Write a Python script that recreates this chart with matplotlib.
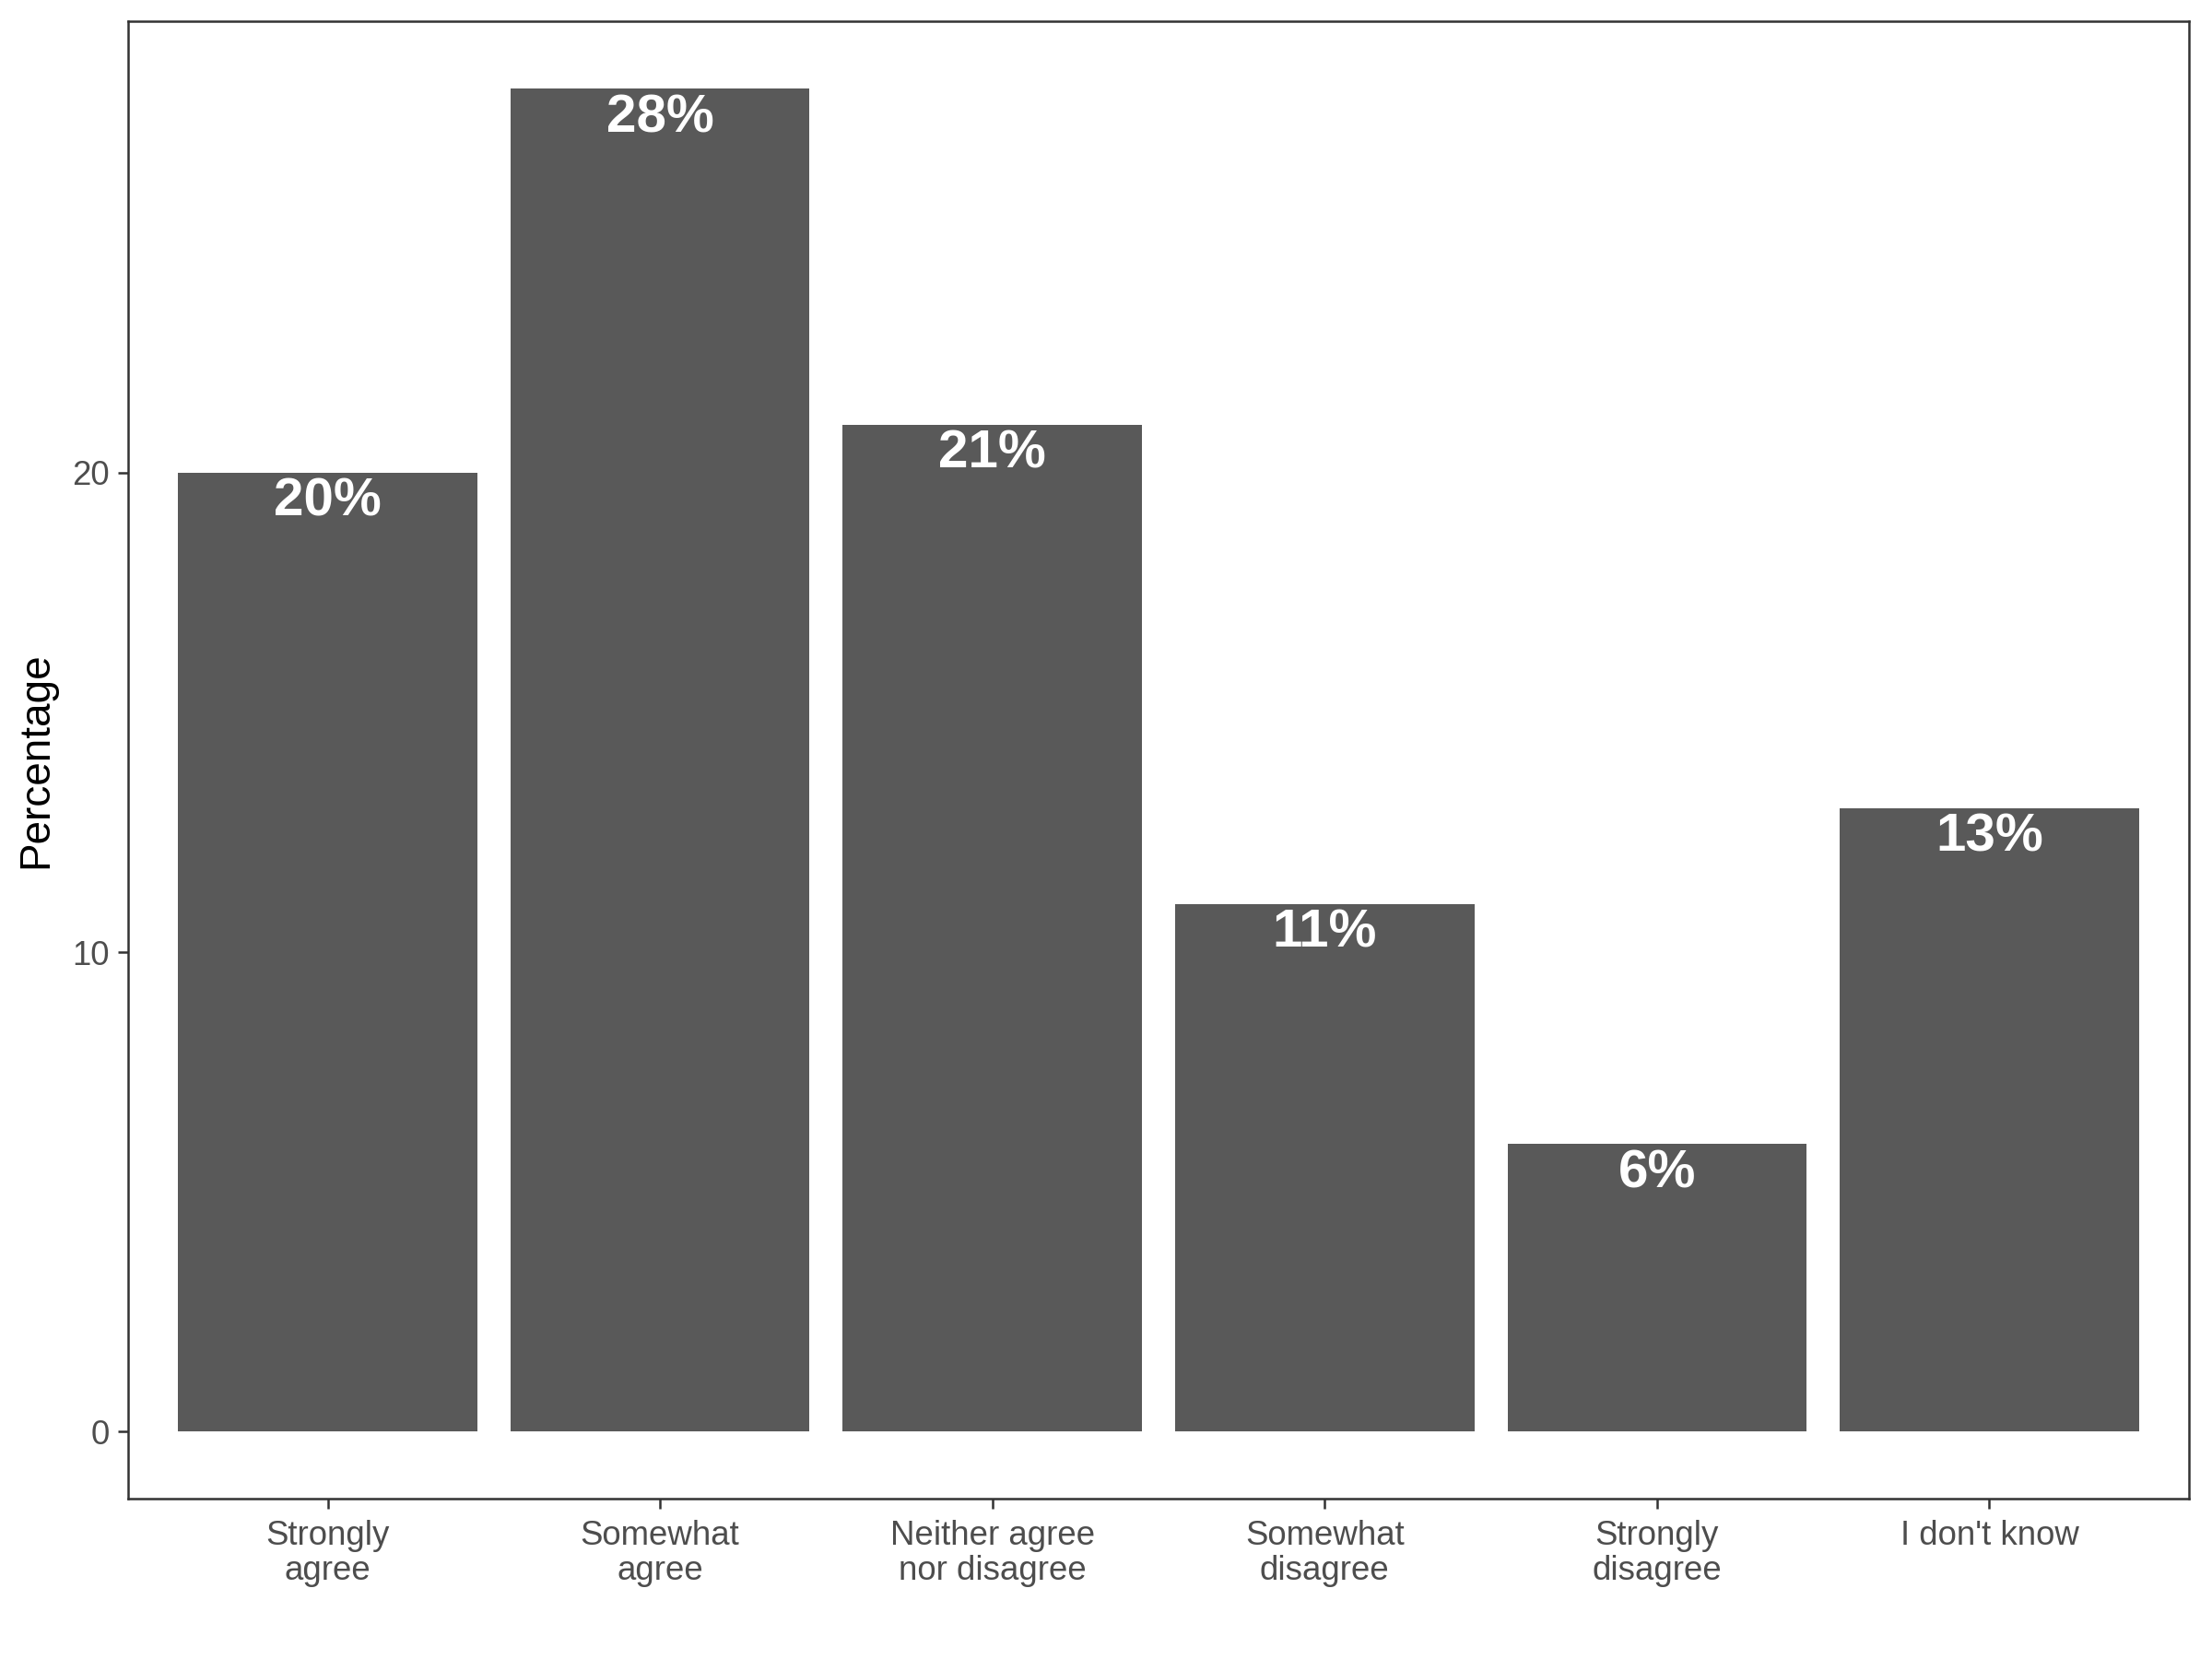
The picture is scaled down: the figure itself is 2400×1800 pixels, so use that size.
import matplotlib.pyplot as plt

plt.rcParams['font.family'] = ['Liberation Sans', 'DejaVu Sans']

categories = ['Strongly\nagree', 'Somewhat\nagree', 'Neither agree\nnor disagree',
              'Somewhat\ndisagree', 'Strongly\ndisagree', "I don't know"]
percentages = [20, 28, 21, 11, 6, 13]
labels = ['20%', '28%', '21%', '11%', '6%', '13%']

fig = plt.figure(figsize=(8, 6), dpi=300)
ax = fig.add_axes([0.058, 0.0965, 0.9315, 0.8905])

x = list(range(len(categories)))
ax.bar(x, percentages, width=0.9, color='#595959', zorder=2)

for xi, v, lab in zip(x, percentages, labels):
    ax.annotate(lab, (xi, v), xytext=(0, -1.2), textcoords='offset points',
                ha='center', va='top', color='white', fontsize=14,
                fontweight='bold')

ax.set_xlim(-0.6, len(categories) - 0.4)
ax.set_ylim(-1.4, 29.4)
ax.set_xticks(x)
ax.set_xticklabels(categories, fontsize=8.8, color='#4D4D4D', linespacing=1.1)
ax.set_yticks([0, 10, 20])
ax.set_yticklabels(['0', '10', '20'], fontsize=8.8, color='#4D4D4D')
ax.tick_params(axis='both', length=2.75, width=0.6, color='#333333', pad=2.2)
ax.tick_params(axis='x', pad=2.8)
ax.set_ylabel('Percentage', fontsize=11, color='black', labelpad=4)

for s in ax.spines.values():
    s.set_color('#333333')
    s.set_linewidth(0.6)

fig.savefig('out.png', dpi=300, facecolor='white')
